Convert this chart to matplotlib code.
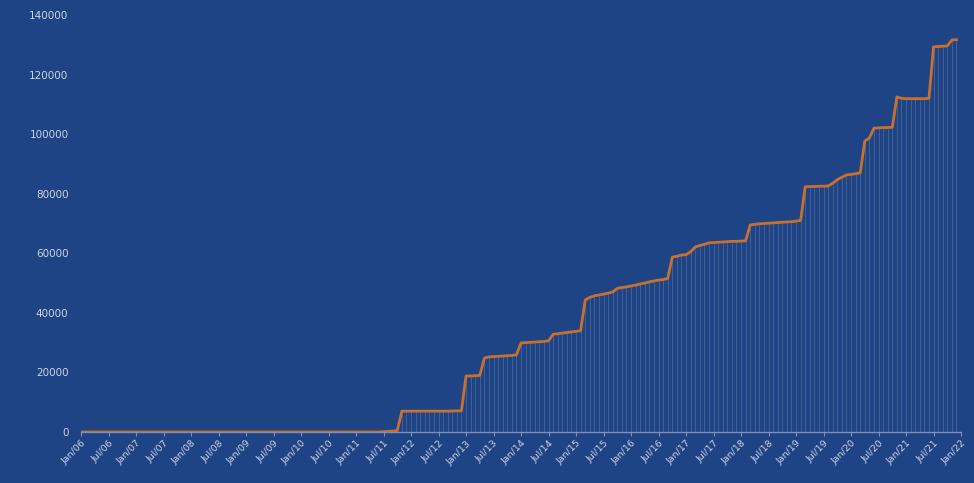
import matplotlib
matplotlib.use("Agg")
import matplotlib.pyplot as plt
import numpy as np

# Monthly cumulative values, Jan 2006 .. Dec 2021
v2006 = [0] * 12
v2007 = [0] * 12
v2008 = [0] * 12
v2009 = [0] * 12
v2010 = [0] * 12
v2011 = [0, 0, 0, 0, 0, 0, 100, 200, 300, 500, 7000, 7000]
v2012 = [7000, 7000, 7000, 7000, 7000, 7000, 7000, 7000, 7000, 7050, 7100, 7100]
v2013 = [18800, 18800, 18900, 19000, 24800, 25200, 25300, 25400, 25500, 25600, 25700, 25900]
v2014 = [29900, 30000, 30100, 30200, 30300, 30400, 30600, 32800, 33000, 33200, 33400, 33600]
v2015 = [33800, 34000, 44300, 45200, 45700, 46000, 46300, 46600, 47000, 48200, 48500, 48700]
v2016 = [49000, 49300, 49700, 50000, 50400, 50700, 51000, 51200, 51500, 58700, 59000, 59400]
v2017 = [59500, 60500, 62100, 62600, 63000, 63500, 63600, 63700, 63800, 63900, 64000, 64000]
v2018 = [64100, 64200, 69500, 69700, 69900, 70000, 70100, 70200, 70300, 70400, 70500, 70600]
v2019 = [70800, 71000, 82300, 82400, 82400, 82500, 82500, 82600, 83500, 84700, 85500, 86300]
v2020 = [86500, 86700, 87000, 97700, 98700, 102000, 102100, 102200, 102200, 102300, 112500, 112000]
v2021 = [111900, 111900, 111900, 111900, 111900, 112000, 129300, 129400, 129500, 129600, 131600, 131700]

values = (v2006 + v2007 + v2008 + v2009 + v2010 + v2011 + v2012 + v2013 +
          v2014 + v2015 + v2016 + v2017 + v2018 + v2019 + v2020 + v2021)

tick_labels = ["Jan/06", "Jul/06", "Jan/07", "Jul/07", "Jan/08", "Jul/08",
               "Jan/09", "Jul/09", "Jan/10", "Jul/10", "Jan/11", "Jul/11",
               "Jan/12", "Jul/12", "Jan/13", "Jul/13", "Jan/14", "Jul/14",
               "Jan/15", "Jul/15", "Jan/16", "Jul/16", "Jan/17", "Jul/17",
               "Jan/18", "Jul/18", "Jan/19", "Jul/19", "Jan/20", "Jul/20",
               "Jan/21", "Jul/21", "Jan/22"]
y_ticks = [0, 20000, 40000, 60000, 80000, 100000, 120000, 140000]

bg = "#1e4485"
txt = "#cdd4e4"

x = np.arange(len(values))
y = np.array(values)

fig = plt.figure(figsize=(9.74, 4.83), dpi=100, facecolor=bg)
ax = fig.add_axes([0.0832, 0.1056, 0.9035, 0.8634], facecolor=bg)

ax.vlines(x, 0, y, color="#8a93b0", linewidth=0.6, alpha=0.4, zorder=1)
ax.plot(x, y, color="#c8702f", linewidth=2.0, zorder=3)

ax.set_xlim(0, 192)
ax.set_ylim(0, 140000)
ax.set_xticks(np.arange(0, 193, 6))
ax.set_xticklabels(tick_labels, rotation=45, ha="right", va="top",
                   rotation_mode="anchor", fontsize=6.8, color=txt)
ax.set_yticks(y_ticks)
ax.set_yticklabels([str(t) for t in y_ticks], fontsize=7.5, color=txt)

for s in ["top", "right", "left"]:
    ax.spines[s].set_visible(False)
ax.spines["bottom"].set_color("#7f90b6")
ax.spines["bottom"].set_linewidth(1.0)
ax.tick_params(axis="x", colors="#7f90b6", length=3, width=0.8, pad=2,
               labelcolor=txt)
ax.tick_params(axis="y", length=0, pad=9, labelcolor=txt)

fig.savefig("out.png", dpi=100, facecolor=bg)
